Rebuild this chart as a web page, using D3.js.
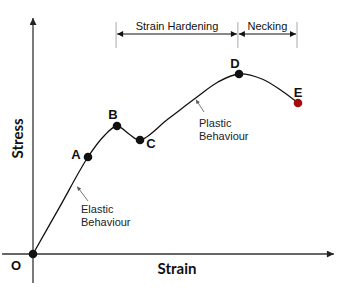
<!DOCTYPE html>
<html><head><meta charset="utf-8">
<script src="https://cdn.jsdelivr.net/npm/d3@7"></script>
<style>body{margin:0;background:#fff}svg{display:block}</style>
</head><body>
<svg id="c" width="343" height="295"></svg>
<script>
// Data (arbitrary units: strain 0-100, stress 0-100)
const strain = [0, 9, 18.33, 23.67, 28, 32, 35.67, 45, 54.67, 61.67, 68.67, 76.33, 83, 88.33];
const stress = [0, 20.2, 41.1, 50.0, 54.24, 50.85, 48.3, 57.2, 66.5, 72.9, 76.27, 74.15, 69.07, 64.0];
const pointNames = ["O", "A", "B", "C", "D", "E"];
const pointStrain = [0, 18.33, 28, 35.67, 68.67, 88.33];
const pointStress = [0, 41.1, 54.24, 48.3, 76.27, 64];
const regionNames = ["Strain Hardening", "Necking"];
const regionStart = [27.7, 68.3];
const regionEnd = [68.3, 88];
const xTitle = "Strain", yTitle = "Stress";

const svg = d3.select("#c");
const x = d3.scaleLinear().domain([0, 100]).range([33, 333]);
const y = d3.scaleLinear().domain([0, 100]).range([254, 18]);

const defs = svg.append("defs");
function marker(id, w, h, color) {
  defs.append("marker").attr("id", id).attr("viewBox", "0 0 10 10")
    .attr("refX", 10).attr("refY", 5).attr("markerWidth", w).attr("markerHeight", h)
    .attr("orient", "auto-start-reverse").attr("markerUnits", "userSpaceOnUse")
    .append("path").attr("d", "M0,0L10,5L0,10z").attr("fill", color);
}
marker("ax", 9, 7, "#222");
marker("br", 9, 6, "#111");
marker("ld", 5, 4, "#555");

// axes
svg.append("line").attr("x1", x(0)).attr("x2", x(0)).attr("y1", y(-12.3)).attr("y2", y(100))
  .attr("stroke", "#333").attr("stroke-width", 1.3).attr("marker-end", "url(#ax)");
svg.append("line").attr("x1", x(-10.3)).attr("x2", x(100.3)).attr("y1", y(0)).attr("y2", y(0))
  .attr("stroke", "#333").attr("stroke-width", 1.3).attr("marker-end", "url(#ax)");

// curve
const pts = strain.map((s, i) => [s, stress[i]]);
svg.append("path").datum(pts)
  .attr("d", d3.line().x(d => x(d[0])).y(d => y(d[1])).curve(d3.curveCatmullRom.alpha(0.5)))
  .attr("fill", "none").attr("stroke", "#111").attr("stroke-width", 1.3);

// points
svg.selectAll("circle.pt").data(pointNames).join("circle")
  .attr("cx", (d, i) => x(pointStrain[i])).attr("cy", (d, i) => y(pointStress[i]))
  .attr("r", 4.3).attr("fill", d => d === "E" ? "#a50c0c" : "#111");

const labelDx = {O: -17, A: -12, B: -4, C: 11, D: -4, E: 0};
const labelDy = {O: 16, A: 2, B: -7, C: 8, D: -6, E: -6};
svg.selectAll("text.pt").data(pointNames).join("text")
  .attr("x", (d, i) => x(pointStrain[i]) + labelDx[d])
  .attr("y", (d, i) => y(pointStress[i]) + labelDy[d])
  .attr("text-anchor", "middle").attr("font-family", "Liberation Sans, Arial, sans-serif")
  .attr("font-weight", "bold").attr("font-size", 13).attr("fill", "#111").text(d => d);

// axis titles
svg.append("text").attr("x", x(48)).attr("y", y(0) + 20).attr("text-anchor", "middle")
  .attr("font-family", "Lato, sans-serif").attr("font-weight", "bold").attr("font-size", 15)
  .attr("fill", "#111").text(xTitle);
svg.append("text").attr("transform", `translate(${x(0) - 10},${y(49)}) rotate(-90)`)
  .attr("text-anchor", "middle").attr("font-family", "Lato, sans-serif").attr("font-weight", "bold")
  .attr("font-size", 15).attr("fill", "#111").text(yTitle);

// region brackets
const ticks = [regionStart[0], regionEnd[0], regionEnd[1]];
svg.selectAll("line.tk").data(ticks).join("line")
  .attr("x1", d => x(d)).attr("x2", d => x(d)).attr("y1", 22).attr("y2", 48)
  .attr("stroke", "#aaa").attr("stroke-width", 1);
regionNames.forEach((n, i) => {
  svg.append("line").attr("x1", x(regionStart[i]) + 1).attr("x2", x(regionEnd[i]) - 1)
    .attr("y1", 34).attr("y2", 34).attr("stroke", "#111").attr("stroke-width", 1)
    .attr("marker-start", "url(#br)").attr("marker-end", "url(#br)");
  svg.append("text").attr("x", (x(regionStart[i]) + x(regionEnd[i])) / 2).attr("y", 30)
    .attr("text-anchor", "middle").attr("font-family", "Liberation Sans, Arial, sans-serif")
    .attr("font-size", 11).attr("fill", "#111").text(n);
});

// annotations
function leader(fromS, fromY, tx, ty) {
  svg.append("line").attr("x1", tx).attr("y1", ty).attr("x2", x(fromS) + 1).attr("y2", y(fromY) + 1)
    .attr("stroke", "#555").attr("stroke-width", 0.8).attr("marker-end", "url(#ld)");
}
leader(14.4, 29, 88, 201);
leader(54, 65.8, 204, 112);
function note(lines, tx, ty) {
  svg.append("text").attr("font-family", "Liberation Sans, Arial, sans-serif").attr("font-size", 11)
    .attr("fill", "#222").selectAll("tspan").data(lines).join("tspan")
    .attr("x", tx).attr("y", (d, i) => ty + i * 13).text(d => d);
}
note(["Elastic", "Behaviour"], 81, 213);
note(["Plastic", "Behaviour"], 199, 127);
</script>
</body></html>
